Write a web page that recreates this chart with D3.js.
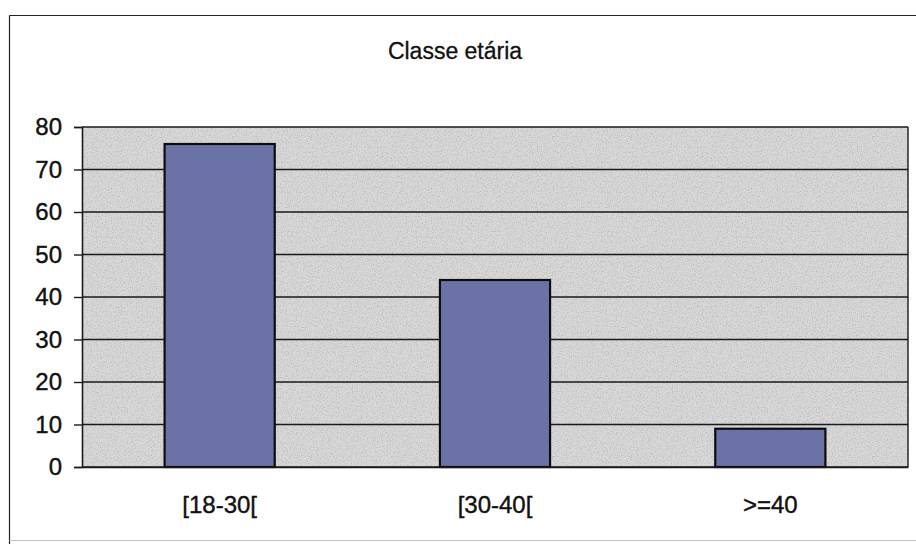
<!DOCTYPE html>
<html>
<head>
<meta charset="utf-8">
<script src="https://cdn.jsdelivr.net/npm/d3@7"></script>
<style>
  html, body { margin: 0; padding: 0; background: #ffffff; }
  svg { display: block; }
</style>
</head>
<body>
<div id="chart"></div>
<script>
// Age-class distribution
const categories = ["[18-30[", "[30-40[", ">=40"];
const counts = [76, 44, 9];
const yTicks = [0, 10, 20, 30, 40, 50, 60, 70, 80];
const titleText = "Classe etária";

const W = 916, H = 544;
const plot = { left: 82, right: 908, top: 127, bottom: 467 };
const labelFont = "'Liberation Sans', Arial, sans-serif";

const svg = d3.select("#chart").append("svg")
  .attr("width", W).attr("height", H);

// grainy fill used for the plot area
const defs = svg.append("defs");
const grain = defs.append("filter").attr("id", "grain")
  .attr("x", 0).attr("y", 0).attr("width", 1).attr("height", 1);
grain.append("feTurbulence").attr("type", "fractalNoise")
  .attr("baseFrequency", 0.8).attr("numOctaves", 2).attr("seed", 4).attr("result", "n");
grain.append("feColorMatrix").attr("in", "n").attr("type", "matrix")
  .attr("values", "0 0 0 0 0  0 0 0 0 0  0 0 0 0 0  0 0 0 -1.2 0.66").attr("result", "a");
grain.append("feComposite").attr("in", "a").attr("in2", "SourceGraphic").attr("operator", "in");

// outer chart frame
const frame = svg.append("g").attr("stroke", "#222").attr("stroke-width", 1.2).attr("fill", "none");
frame.append("line").attr("x1", 9.5).attr("x2", 9.5).attr("y1", 15.5).attr("y2", 544);
frame.append("line").attr("x1", 9.5).attr("x2", 916).attr("y1", 15.5).attr("y2", 15.5);
frame.append("line").attr("x1", 9.5).attr("x2", 916).attr("y1", 540.5).attr("y2", 540.5)
  .attr("stroke", "#c4c4c4");

// title
svg.append("text")
  .attr("x", 455).attr("y", 59)
  .attr("text-anchor", "middle")
  .attr("font-family", labelFont)
  .attr("font-size", 23)
  .attr("fill", "#111")
  .attr("stroke", "#111").attr("stroke-width", 0.3)
  .text(titleText);

const x = d3.scaleBand()
  .domain(categories)
  .range([plot.left, plot.right])
  .paddingInner(0.6)
  .paddingOuter(0.3);

const y = d3.scaleLinear()
  .domain([0, 80])
  .range([plot.bottom, plot.top]);

// plot background
svg.append("rect")
  .attr("x", plot.left).attr("y", plot.top)
  .attr("width", plot.right - plot.left).attr("height", plot.bottom - plot.top)
  .attr("fill", "#d8d8d8");
svg.append("rect")
  .attr("x", plot.left).attr("y", plot.top)
  .attr("width", plot.right - plot.left).attr("height", plot.bottom - plot.top)
  .attr("fill", "#a8a8a8")
  .attr("filter", "url(#grain)")
  .attr("opacity", 0.28);

// gridlines
svg.append("g")
  .selectAll("line")
  .data(yTicks)
  .join("line")
  .attr("x1", plot.left).attr("x2", plot.right)
  .attr("y1", d => y(d)).attr("y2", d => y(d))
  .attr("stroke", "#1a1a1a").attr("stroke-width", 1.4);

// right edge of plot
svg.append("line")
  .attr("x1", plot.right).attr("x2", plot.right)
  .attr("y1", plot.top).attr("y2", plot.bottom)
  .attr("stroke", "#1a1a1a").attr("stroke-width", 1.4);

// bars
svg.append("g")
  .selectAll("rect")
  .data(categories.map((c, i) => ({ c, v: counts[i] })))
  .join("rect")
  .attr("x", d => x(d.c))
  .attr("y", d => y(d.v))
  .attr("width", x.bandwidth())
  .attr("height", d => y(0) - y(d.v))
  .attr("fill", "#6b73a6")
  .attr("stroke", "#0d0d0d")
  .attr("stroke-width", 2.2);

// y axis
const yAxis = svg.append("g")
  .attr("transform", `translate(${plot.left},0)`)
  .call(d3.axisLeft(y).tickValues(yTicks).tickSize(8).tickPadding(12));
yAxis.select(".domain").attr("stroke", "#1a1a1a").attr("stroke-width", 1.6);
yAxis.selectAll(".tick line").attr("stroke", "#1a1a1a").attr("stroke-width", 1.4);
yAxis.selectAll(".tick text")
  .attr("font-family", labelFont)
  .attr("font-size", 24).attr("fill", "#111")
  .attr("stroke", "#111").attr("stroke-width", 0.4);

// x axis
const xAxis = svg.append("g")
  .attr("transform", `translate(0,${plot.bottom})`)
  .call(d3.axisBottom(x).tickSize(0).tickPadding(29));
xAxis.select(".domain").attr("stroke", "#1a1a1a").attr("stroke-width", 1.6);
xAxis.selectAll(".tick text")
  .attr("font-family", labelFont)
  .attr("font-size", 24).attr("fill", "#111")
  .attr("stroke", "#111").attr("stroke-width", 0.4);
</script>
</body>
</html>
